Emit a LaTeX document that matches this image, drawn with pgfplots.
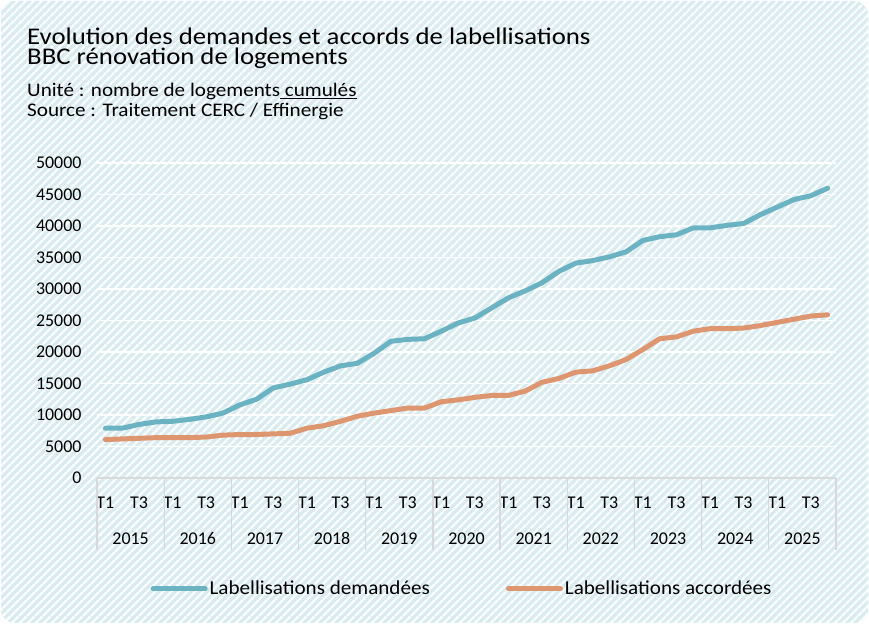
\documentclass[border=0pt]{standalone}
\usepackage{pgfplots}
\pgfplotsset{compat=1.18}
\usepackage{pgfplotstable}
\usepackage{fontspec}
\setmainfont{Carlito}
\newfontfamily\titlefont[FakeStretch=1.12]{Carlito}
\newfontfamily\subfont[FakeStretch=1.1]{Carlito}
\newfontfamily\legfont[FakeStretch=1.07]{Carlito}
\usetikzlibrary{patterns.meta}
\definecolor{bluel}{HTML}{6BB2C2}
\definecolor{orangel}{HTML}{DE9670}
\definecolor{hatch}{HTML}{D8EBF0}
\definecolor{sep}{HTML}{D9D9D9}

\pgfplotstableread{
i dem acc
0 7900 6100
1 7900 6200
2 8500 6300
3 8900 6400
4 9000 6400
5 9300 6400
6 9700 6500
7 10300 6800
8 11600 6900
9 12500 6900
10 14300 7000
11 14900 7100
12 15600 7900
13 16800 8300
14 17800 9000
15 18200 9800
16 19800 10300
17 21700 10700
18 22000 11100
19 22100 11100
20 23300 12100
21 24600 12400
22 25400 12800
23 27000 13100
24 28600 13100
25 29700 13800
26 31000 15200
27 32800 15800
28 34100 16800
29 34500 17000
30 35100 17800
31 35900 18800
32 37700 20400
33 38300 22100
34 38600 22400
35 39700 23300
36 39700 23700
37 40100 23700
38 40400 23800
39 41800 24200
40 43000 24700
41 44200 25200
42 44800 25700
43 46000 25900
}\datatable

\begin{document}
\begin{tikzpicture}[x=1bp,y=1bp]
\useasboundingbox (0,0) rectangle (869,624);
\fill[hatch, rounded corners=14bp] (1,1) rectangle (868,623);
\fill[pattern={Lines[angle=45,distance=6bp,line width=3bp]}, pattern color=white, rounded corners=14bp] (1,1) rectangle (868,623);

\node[anchor=base west, inner sep=0] at (27,579) {\titlefont\fontsize{24}{24}\selectfont Evolution des demandes et accords de labellisations};
\node[anchor=base west, inner sep=0] at (27,559) {\titlefont\fontsize{24}{24}\selectfont BBC rénovation de logements};
\node[anchor=base west, inner sep=0] at (27,527) {\subfont\fontsize{19.3}{20}\selectfont Unité : nombre de logements\underline{\ cumulés}};
\node[anchor=base west, inner sep=0] at (27,507) {\subfont\fontsize{19.3}{20}\selectfont Source : Traitement CERC / Effinergie};

\begin{axis}[
  at={(97bp,146bp)}, anchor=south west,
  scale only axis, width=739bp, height=315bp,
  xmin=-0.5, xmax=43.5, ymin=0, ymax=50000,
  clip=false,
  ytick={0,5000,...,50000},
  scaled y ticks=false,
  /pgf/number format/1000 sep={},
  /pgf/number format/assume math mode=true,
  ymajorgrids, grid style={white, line width=1.6bp},
  axis x line*=bottom, axis y line*=left,
  y axis line style={draw=none},
  x axis line style={draw=sep, line width=1.3bp, -},
  ytick style={draw=none},
  xtick style={draw=sep, line width=1.3bp},
  major tick length=0bp,
  yticklabel style={font=\fontsize{18}{18}\selectfont, xshift=-12bp},
  xtick={0,2,...,42},
  xticklabels={T1,T3,T1,T3,T1,T3,T1,T3,T1,T3,T1,T3,T1,T3,T1,T3,T1,T3,T1,T3,T1,T3},
  xticklabel style={font=\fontsize{18}{18}\selectfont, yshift=-15bp},
  extra x ticks={-0.5,3.5,7.5,11.5,15.5,19.5,23.5,27.5,31.5,35.5,39.5,43.5},
  extra x tick labels={},
  extra x tick style={major tick length=72bp, tick align=outside},
  legend style={at={(0.494,-0.352)}, anchor=center, draw=none, fill=none,
    legend columns=2, font=\legfont\fontsize{19.8}{20}\selectfont,
    /tikz/every even column/.append style={column sep=74bp}},
  legend image code/.code={\draw[#1, line width=5bp, line cap=round] (0bp,0bp) -- (52bp,0bp);},
]
\addplot[bluel, line width=5bp, line join=round, line cap=round] table[x=i, y=dem] {\datatable};
\addlegendentry{Labellisations demandées}
\addplot[orangel, line width=5bp, line join=round, line cap=round] table[x=i, y=acc] {\datatable};
\addlegendentry{Labellisations accordées}

\node[font=\fontsize{18}{18}\selectfont, anchor=base, yshift=-67bp] at (axis cs:1.5,0) {2015};
\node[font=\fontsize{18}{18}\selectfont, anchor=base, yshift=-67bp] at (axis cs:5.5,0) {2016};
\node[font=\fontsize{18}{18}\selectfont, anchor=base, yshift=-67bp] at (axis cs:9.5,0) {2017};
\node[font=\fontsize{18}{18}\selectfont, anchor=base, yshift=-67bp] at (axis cs:13.5,0) {2018};
\node[font=\fontsize{18}{18}\selectfont, anchor=base, yshift=-67bp] at (axis cs:17.5,0) {2019};
\node[font=\fontsize{18}{18}\selectfont, anchor=base, yshift=-67bp] at (axis cs:21.5,0) {2020};
\node[font=\fontsize{18}{18}\selectfont, anchor=base, yshift=-67bp] at (axis cs:25.5,0) {2021};
\node[font=\fontsize{18}{18}\selectfont, anchor=base, yshift=-67bp] at (axis cs:29.5,0) {2022};
\node[font=\fontsize{18}{18}\selectfont, anchor=base, yshift=-67bp] at (axis cs:33.5,0) {2023};
\node[font=\fontsize{18}{18}\selectfont, anchor=base, yshift=-67bp] at (axis cs:37.5,0) {2024};
\node[font=\fontsize{18}{18}\selectfont, anchor=base, yshift=-67bp] at (axis cs:41.5,0) {2025};
\end{axis}
\end{tikzpicture}
\end{document}
